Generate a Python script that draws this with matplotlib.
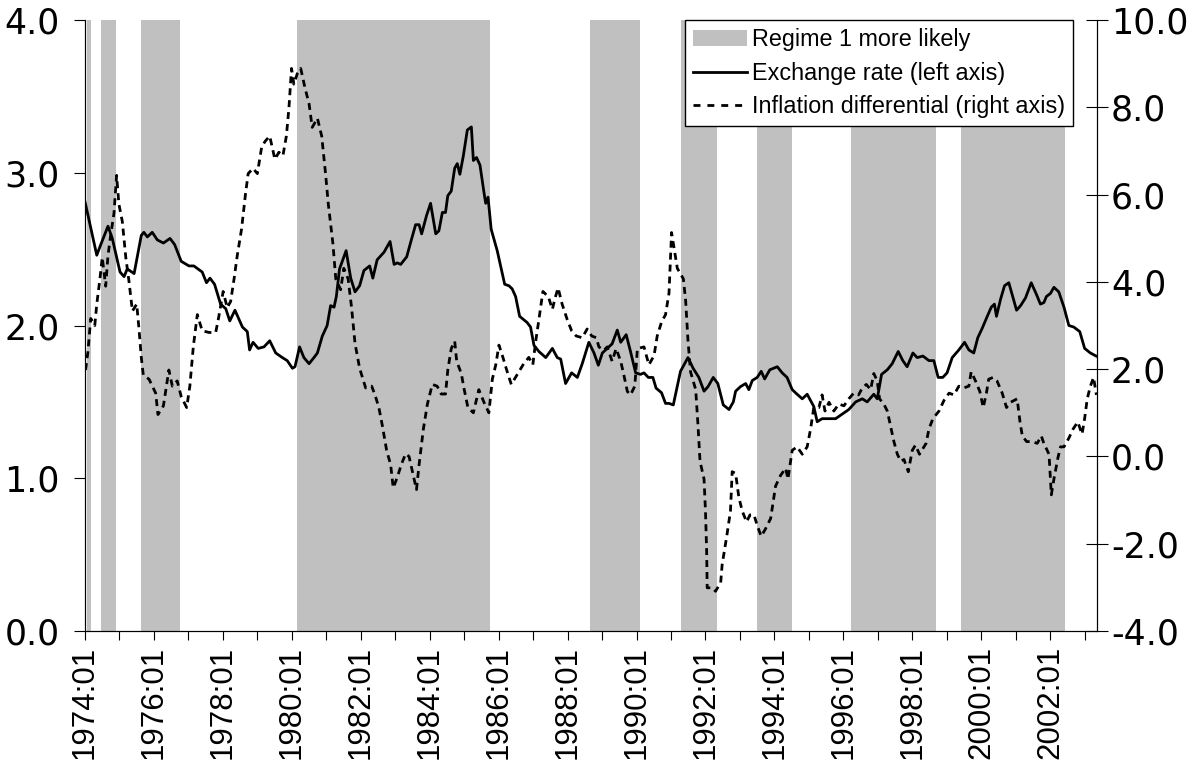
import matplotlib.pyplot as plt
from matplotlib.patches import Patch
from matplotlib.lines import Line2D
from matplotlib.ticker import FormatStrFormatter

plt.rcParams['font.family'] = ['Liberation Sans', 'DejaVu Sans']
plt.rcParams['axes.unicode_minus'] = False

# x positions are months since 1974:01
er_month = [0.0, 4.1, 5.5, 8.0, 9.5, 12.2, 13.6, 14.7, 17.1, 19.6, 20.5, 21.7, 23.4, 25.2, 27.3,
            29.6, 31.2, 33.5, 36.2, 37.9, 40.8, 42.3, 43.5, 45.1, 47.2, 49.0, 50.4, 52.2, 54.8,
            56.5, 57.3, 58.5, 60.3, 62.3, 64.3, 66.4, 68.7, 70.4, 72.2, 73.1, 74.7, 76.2, 78.0,
            79.7, 80.9, 82.6, 84.3, 85.5, 86.7, 87.5, 88.6, 90.9, 92.5, 94.0, 95.6, 97.1, 99.1,
            100.2, 101.7, 104.1, 106.2, 107.6, 108.7, 109.9, 112.0, 113.6, 115.1, 116.3, 117.2,
            118.9, 120.3, 122.1, 123.2, 124.4, 125.5, 126.3, 127.5, 128.7, 129.6, 130.5, 131.7,
            133.1, 134.5, 135.2, 136.3, 137.5, 138.9, 139.5, 140.3, 141.4, 143.5, 146.1, 147.6,
            148.7, 149.9, 151.3, 152.6, 153.9, 155.1, 156.3, 158.0, 160.4, 162.7, 164.4, 165.6,
            167.3, 169.4, 171.4, 173.1, 175.4, 177.2, 178.7, 180.1, 181.8, 183.5, 185.3, 186.5,
            188.4, 189.9, 191.7, 193.4, 194.6, 196.1, 197.7, 198.8, 200.7, 202.1, 203.3, 204.8,
            207.3, 209.9, 211.7, 213.7, 215.5, 216.9, 218.7, 220.3, 222.2, 224.2, 225.7, 226.5,
            228.2, 230.0, 231.1, 232.3, 234.0, 235.4, 236.6, 238.4, 241.0, 242.7, 244.4, 246.2,
            247.9, 249.7, 251.4, 253.7, 254.9, 256.6, 258.4, 261.3, 263.6, 265.9, 268.3, 270.6,
            272.3, 274.6, 275.8, 277.3, 279.3, 281.0, 283.1, 284.7, 286.2, 288.2, 289.7, 291.7,
            293.8, 295.5, 297.0, 298.6, 300.1, 301.9, 304.2, 306.2, 307.7, 309.4, 310.8, 312.3,
            314.1, 315.5, 316.6, 317.3, 318.7, 320.1, 321.6, 324.3, 325.7, 327.4, 329.4, 331.3,
            332.6, 333.8, 334.7, 336.1, 337.3, 339.0, 340.8, 342.5, 344.2, 346.3, 348.0, 350.0,
            352.0]
er_value = [2.81, 2.46, 2.53, 2.65, 2.57, 2.35, 2.32, 2.37, 2.34, 2.59, 2.61, 2.58, 2.61, 2.56, 2.54,
            2.57, 2.53, 2.42, 2.39, 2.39, 2.35, 2.28, 2.31, 2.27, 2.14, 2.11, 2.03, 2.10, 1.99,
            1.96, 1.84, 1.89, 1.85, 1.86, 1.90, 1.82, 1.79, 1.77, 1.72, 1.73, 1.86, 1.79, 1.75,
            1.79, 1.82, 1.93, 2.00, 2.13, 2.12, 2.19, 2.37, 2.49, 2.31, 2.22, 2.26, 2.36, 2.39,
            2.31, 2.43, 2.48, 2.55, 2.40, 2.41, 2.40, 2.45, 2.56, 2.66, 2.66, 2.60,
            2.72, 2.80, 2.60, 2.62, 2.74, 2.74, 2.85, 2.88, 3.03, 3.06, 2.99, 3.11,
            3.28, 3.30, 3.08, 3.10, 3.05, 2.87, 2.80, 2.84, 2.63, 2.49, 2.27, 2.26,
            2.24, 2.19, 2.06, 2.04, 2.02, 1.99, 1.87, 1.83, 1.79, 1.85, 1.79, 1.78,
            1.62, 1.69, 1.66, 1.75, 1.89, 1.82, 1.74, 1.82, 1.85, 1.88, 1.97, 1.89,
            1.94, 1.83, 1.69, 1.68, 1.69, 1.66, 1.66, 1.59, 1.56, 1.49, 1.49, 1.48,
            1.70, 1.79, 1.72, 1.66, 1.57, 1.60, 1.66, 1.62, 1.48, 1.45, 1.50, 1.57,
            1.60, 1.62, 1.58, 1.64, 1.66, 1.70, 1.65, 1.71, 1.73, 1.69, 1.66, 1.58,
            1.55, 1.52, 1.55, 1.47, 1.37, 1.39, 1.39, 1.39, 1.42, 1.45, 1.50, 1.52,
            1.50, 1.55, 1.52, 1.68, 1.71, 1.75, 1.83, 1.77, 1.73, 1.82, 1.79, 1.80,
            1.77, 1.77, 1.66, 1.66, 1.69, 1.79, 1.84, 1.89, 1.84, 1.82, 1.92, 1.98,
            2.06, 2.12, 2.14, 2.06, 2.17, 2.26, 2.28, 2.10, 2.13, 2.18, 2.28, 2.20,
            2.14, 2.15, 2.19, 2.21, 2.25, 2.22, 2.12, 2.00, 1.99, 1.96, 1.85, 1.82,
            1.80]

inf_month = [0.2, 1.0, 2.0, 3.4, 4.1, 5.2, 6.0, 7.2, 8.0, 8.9, 10.1, 11.0, 11.8, 13.0, 14.2, 15.3,
             16.5, 18.0, 18.8, 19.6, 20.3, 22.3, 24.6, 25.4, 27.3, 29.2, 30.4, 32.1, 33.5, 35.4,
             36.5, 37.7, 39.1, 40.8, 43.2, 45.5, 46.6, 48.1, 49.5, 50.7, 51.9, 53.0, 54.5, 55.9,
             56.8, 58.5, 60.0, 61.5, 62.7, 64.3, 66.1, 67.5, 68.9, 70.1, 71.0, 71.9, 72.7, 73.9,
             75.1, 76.6, 78.0, 79.1, 80.9, 82.4, 83.8, 84.7, 86.3, 87.3, 89.0, 90.1, 91.6, 92.8,
             94.0, 95.6, 97.7, 99.8, 101.0, 102.3, 103.5, 105.0, 106.4, 107.3, 108.7, 110.1,
             111.6, 112.8, 114.3, 115.4, 116.3, 117.8, 119.2, 120.9, 122.6, 124.0, 125.5, 126.3,
             127.5, 128.7, 129.4, 131.0, 131.9, 133.3, 135.2, 137.1, 138.9, 140.6, 141.8, 143.0,
             144.1, 145.3, 146.8, 148.4, 150.3, 152.5, 154.5, 155.9, 156.9, 158.0, 159.4, 161.3,
             162.7, 163.6, 164.7, 166.1, 167.9, 169.4, 171.0, 173.1, 174.8, 176.4, 178.0, 178.9,
             180.6, 181.8, 183.5, 184.9, 186.5, 187.6, 188.8, 189.9, 191.4, 192.3, 194.6, 196.3,
             198.1, 199.2, 200.7, 202.1, 203.3, 204.2, 206.2, 208.3, 209.1, 209.9, 210.8, 212.6,
             213.4, 214.1, 215.5, 216.0, 216.4, 216.6, 218.4, 219.5, 221.3, 221.8, 223.4, 224.7,
             225.3, 226.5, 227.6, 228.8, 230.3, 231.5, 232.9, 234.0, 235.4, 236.9, 238.7, 240.4,
             242.1, 243.9, 244.7, 246.2, 247.9, 249.7, 251.4, 252.6, 253.7, 255.5, 256.6, 257.6,
             259.0, 260.7, 262.4, 264.2, 265.9, 267.6, 269.3, 270.6, 272.0, 273.5, 274.6, 275.8,
             276.6, 278.1, 279.3, 280.5, 281.6, 282.8, 284.0, 285.1, 286.6, 288.0, 289.1, 290.5,
             292.8, 293.8, 295.2, 297.3, 299.0, 300.8, 302.5, 304.2, 305.9, 307.7, 308.5, 310.0,
             311.5, 312.7, 313.8, 314.6, 316.1, 317.5, 319.3, 320.8, 322.2, 324.5, 325.5, 326.3,
             327.8, 329.7, 331.5, 332.9, 333.8, 335.6, 336.4, 337.3, 338.7, 339.6, 340.8, 342.5,
             344.0, 345.6, 347.1, 348.0, 348.9, 350.0, 351.1, 352.1]
inf_value = [1.98, 2.39, 3.16, 3.00, 3.49, 4.07, 4.56, 3.90, 4.60, 5.05, 5.58, 6.44, 5.78, 5.38, 4.56, 4.02,
             3.33, 3.49, 2.92, 2.27, 1.86, 1.77, 1.45, 0.96, 1.16, 1.98, 1.61, 1.73, 1.37, 1.12,
             1.61, 2.51, 3.25, 2.88, 2.84, 2.84, 3.21, 3.78, 3.41, 3.55, 4.07, 4.60, 5.21, 6.03,
             6.48, 6.60, 6.48, 7.09, 7.22, 7.34, 6.81, 6.97, 6.89, 7.34, 7.99, 8.89, 8.53, 8.77,
             8.89, 8.44, 8.08, 7.54, 7.75, 7.34, 6.44, 5.78, 4.88, 4.07, 3.82, 4.31, 4.07, 3.41,
             2.59, 2.02, 1.57, 1.61, 1.40, 1.12, 0.71, 0.14, -0.19, -0.72, -0.48, -0.19,
             0.06, 0.00, -0.44, -0.76, -0.19, 0.63, 1.20, 1.65, 1.61, 1.43, 1.43, 1.98,
             2.47, 2.64, 2.18, 1.90, 1.57, 1.12, 1.00, 1.53, 1.24, 1.00, 1.77, 2.10,
             2.55, 2.31, 1.98, 1.65, 1.86, 2.10, 2.27, 2.10, 2.64, 3.13, 3.78, 3.66,
             3.37, 3.62, 3.86, 3.49, 3.13, 2.88, 2.76, 2.72, 2.92, 2.76, 2.72, 2.51,
             2.43, 2.51, 2.18, 2.47, 2.18, 1.86, 1.49, 1.41, 1.61, 2.47, 2.51, 2.10,
             2.31, 2.76, 3.08, 3.25, 3.74, 5.13, 4.31, 4.07, 3.57, 2.67, 1.94, 1.53,
             0.71, -0.11, -0.52, -1.25, -2.15, -3.01, -3.01, -3.09, -2.89, -2.48, -1.83, -1.25,
             -0.35, -0.39, -0.93, -1.25, -1.50, -1.34, -1.34, -1.58, -1.83, -1.66, -1.42, -0.68,
             -0.44, -0.27, -0.52, 0.14, 0.22, 0.05, 0.22, 0.63, 1.12, 1.12, 1.41, 1.04,
             1.24, 1.04, 1.20, 1.16, 1.32, 1.45, 1.41, 1.57, 1.65, 1.53, 1.90, 1.73,
             1.32, 1.20, 1.04, 0.67, 0.34, 0.05, -0.11, -0.07, -0.35, 0.14, 0.26, 0.05,
             0.30, 0.63, 0.87, 1.04, 1.28, 1.45, 1.41, 1.61, 1.57, 1.61, 1.94, 1.73,
             1.49, 1.12, 1.45, 1.77, 1.81, 1.73, 1.45, 1.12, 1.24, 1.32, 0.79, 0.47,
             0.34, 0.34, 0.30, 0.47, 0.30, 0.05, -0.88, -0.52, -0.03, 0.22, 0.22, 0.42,
             0.63, 0.79, 0.51, 0.87, 1.32, 1.61, 1.81, 1.41]

# periods where regime 1 is more likely (months since 1974:01)
regime_start = [0.6, 5.5, 19.6, 73.7, 175.8, 207.6, 233.8, 266.7, 304.8]
regime_end = [2.0, 10.9, 33.1, 141.0, 193.1, 220.1, 246.2, 296.1, 341.1]

tick_labels = ["1974:01", "1976:01", "1978:01", "1980:01", "1982:01", "1984:01", "1986:01",
               "1988:01", "1990:01", "1992:01", "1994:01", "1996:01", "1998:01", "2000:01",
               "2002:01"]
left_ticks = [0, 1, 2, 3, 4]
right_ticks = [-4, -2, 0, 2, 4, 6, 8, 10]

dpi = 100
fig_w_px, fig_h_px = 1199, 760
ax_l, ax_r, ax_t, ax_b = 85, 1097, 20, 631

fig = plt.figure(figsize=(fig_w_px / dpi, fig_h_px / dpi), dpi=dpi)
ax = fig.add_axes([ax_l / fig_w_px, 1 - ax_b / fig_h_px,
                   (ax_r - ax_l) / fig_w_px, (ax_b - ax_t) / fig_h_px])
ax2 = ax.twinx()

shade = '#C0C0C0'
for s, e in zip(regime_start, regime_end):
    ax.axvspan(s, e, color=shade, lw=0, zorder=0)

ax.plot(er_month, er_value, color='black', lw=2.0, zorder=3)
ax2.plot(inf_month, inf_value, color='black', lw=2.0, linestyle=(0, (2.5, 1.8)), zorder=3)

# x axis: tick every year, label every second year
xt = list(range(0, 349, 12))
labels = []
for i in range(len(xt)):
    labels.append(tick_labels[i // 2] if i % 2 == 0 else '')
ax.set_xticks(xt)
ax.set_xticklabels(labels)
ax.set_xlim(0, 352.3)

ax.set_ylim(0, 4)
ax.set_yticks(left_ticks)
ax2.set_ylim(-4, 10)
ax2.set_yticks(right_ticks)
ax.yaxis.set_major_formatter(FormatStrFormatter('%.1f'))
ax2.yaxis.set_major_formatter(FormatStrFormatter('%.1f'))

ax.tick_params(axis='x', direction='out', length=6.5, width=0.8, labelsize=22.5,
               labelrotation=90, pad=4)
ax.tick_params(axis='y', direction='out', length=8, width=0.8, labelsize=25, pad=10)
ax2.tick_params(axis='y', direction='inout', length=16, width=0.8, labelsize=25, pad=2)
# the value labels in the original are wide, DejaVu matches their width best
for lab in ax.get_yticklabels() + ax2.get_yticklabels():
    lab.set_family('DejaVu Sans')

for a in (ax, ax2):
    a.spines['top'].set_visible(False)
    for sp in ('left', 'right', 'bottom'):
        a.spines[sp].set_linewidth(0.8)

handles = [Patch(facecolor=shade, edgecolor='none', label='Regime 1 more likely'),
           Line2D([], [], color='black', lw=2.0, label='Exchange rate (left axis)'),
           Line2D([], [], color='black', lw=2.0, linestyle=(0, (2.5, 2.5)),
                  label='Inflation differential (right axis)')]
leg = ax2.legend(handles=handles, loc='upper right',
                 bbox_to_anchor=(1073 / fig_w_px, 1 - 20 / fig_h_px),
                 bbox_transform=fig.transFigure, fontsize=16.8, frameon=True,
                 fancybox=False, edgecolor='black', framealpha=1, borderpad=0.35,
                 labelspacing=0.45, handlelength=2.3, handletextpad=0.2, borderaxespad=0)
leg.get_frame().set_linewidth(1.0)
leg.set_zorder(10)

fig.savefig('out.png', dpi=dpi)
